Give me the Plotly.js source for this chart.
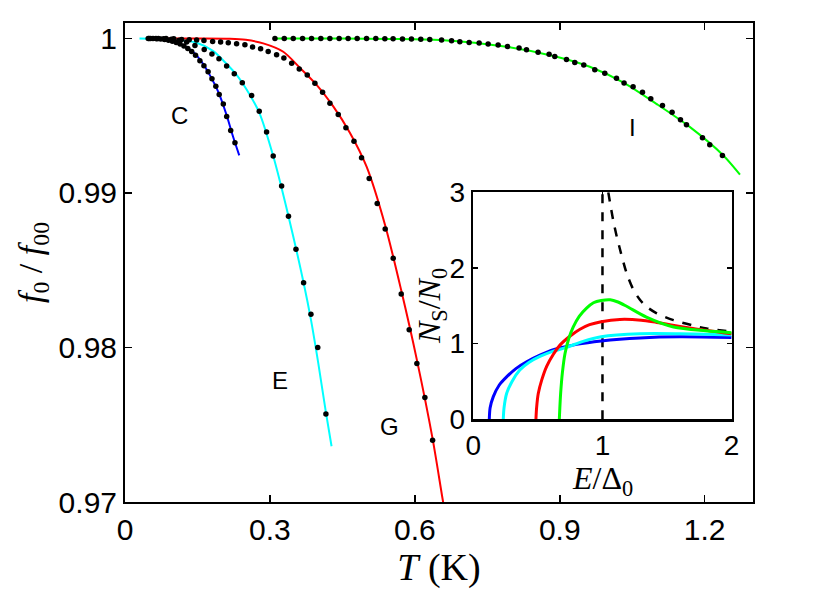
<!DOCTYPE html>
<html>
<head>
<meta charset="utf-8">
<script src="https://cdn.plot.ly/plotly-3.0.1.min.js"></script>
<style>html,body{margin:0;padding:0;background:#fff;}#plot{width:830px;height:590px;}</style>
</head>
<body>
<div id="plot"></div>
<script>
// ---------- main panel data: T (K) vs f0/f00 ----------
const cLineT = [0.048,0.0793,0.1138,0.1414,0.1587,0.1759,0.1931,0.2104,0.2236,0.2365];
const cLineF = [1.0,0.99994,0.99966,0.99912,0.99848,0.99761,0.99654,0.99503,0.99365,0.99243];
const cDotT = [0.050,0.058,0.066,0.074,0.082,0.090,0.098,0.106,0.114,0.122,0.130,0.138,0.146,0.155,0.1634,0.172,0.180,0.188,0.195,0.2035,0.2105,0.2188,0.2276];
const cDotF = [1.0,0.99999,0.99998,0.99996,0.99993,0.99988,0.99982,0.99974,0.99964,0.99951,0.99935,0.99915,0.99891,0.99856,0.99824,0.99785,0.9974,0.9969,0.99637,0.99575,0.99495,0.99405,0.99325];

const eLineT = [0.03,0.10,0.1483,0.1828,0.2104,0.231,0.2517,0.2779,0.3068,0.3384,0.3697,0.3849,0.40,0.4159,0.4276];
const eLineF = [1.0,0.99993,0.99972,0.99918,0.99835,0.99765,0.9967,0.9952,0.99239,0.9885,0.98419,0.9818,0.979,0.9758,0.97361];
const eDotT = [0.048,0.064,0.080,0.096,0.112,0.1276,0.1448,0.164,0.180,0.1945,0.2104,0.2262,0.2428,0.2621,0.2779,0.2931,0.3068,0.3242,0.3384,0.3539,0.3697,0.3849,0.399,0.4159];
const eDotF = [1.0,1.0,0.99998,0.99995,0.99988,0.99977,0.99955,0.99929,0.999,0.99869,0.99822,0.99772,0.99714,0.9963,0.99529,0.99394,0.99239,0.99045,0.9885,0.98635,0.98419,0.98215,0.980,0.9757];

const gLineT = [0.048,0.15,0.2172,0.25,0.2862,0.3276,0.362,0.3966,0.4311,0.4655,0.5001,0.5386,0.5718,0.6042,0.6367,0.6564,0.666];
const gLineF = [1.0,1.0,0.99998,0.99991,0.99968,0.99914,0.9981,0.997,0.9956,0.9939,0.9917,0.9879,0.9837,0.9792,0.9741,0.97039,0.9686];
const gDotT = [0.053,0.069,0.085,0.101,0.1173,0.133,0.1483,0.1634,0.1814,0.1979,0.2138,0.231,0.2482,0.2641,0.2807,0.2964,0.3138,0.3289,0.345,0.3607,0.3773,0.3931,0.409,0.4242,0.4414,0.4573,0.474,0.4897,0.5055,0.5221,0.5386,0.5552,0.5718,0.5883,0.6042,0.6208,0.6367];
const gDotF = [1.0,1.0,1.0,0.99998,0.99994,0.99992,0.9999,0.99987,0.99981,0.99977,0.99972,0.99966,0.99959,0.99945,0.99934,0.99916,0.99895,0.99874,0.9984,0.99803,0.99764,0.9971,0.99652,0.99581,0.99508,0.99422,0.99334,0.99228,0.99093,0.98932,0.98766,0.98577,0.98346,0.98114,0.97897,0.97677,0.974];

const iLineT = [0.31,0.45,0.55,0.6518,0.7897,0.8932,0.9621,1.031,1.100,1.1697,1.2386,1.273];
const iLineF = [1.0,0.99999,0.99997,0.9999,0.99946,0.99882,0.99817,0.99716,0.99577,0.99426,0.99243,0.99119];
const iDotT = [0.3104,0.3297,0.3483,0.3676,0.3862,0.4054,0.4241,0.4433,0.4619,0.4806,0.5,0.5192,0.5379,0.555,0.5744,0.593,0.6123,0.6309,0.6553,0.676,0.6931,0.7124,0.7331,0.7517,0.7724,0.7918,0.8158,0.8311,0.8551,0.8779,0.8897,0.9139,0.9311,0.9497,0.9725,0.9932,1.0174,1.0331,1.0518,1.0712,1.0884,1.1126,1.1325,1.1499,1.1623,1.1954,1.2105,1.2367];
const iDotF = [1.0,1.0,1.0,1.0,1.0,1.0,1.0,1.0,1.0,1.0,0.99999,0.99999,0.99998,0.99998,0.99997,0.99996,0.99995,0.99993,0.9999,0.99985,0.99979,0.99974,0.9997,0.99964,0.99957,0.99948,0.99938,0.99927,0.9991,0.99897,0.99884,0.99863,0.99845,0.99828,0.99798,0.99774,0.99742,0.99712,0.99688,0.99652,0.99609,0.99566,0.99523,0.99474,0.99441,0.99357,0.99312,0.99243];

const mainTickVals = [0.97,0.98,0.99,1];
const mainTickText = ['0.97','0.98','0.99','1'];
const tTickVals = [0,0.3,0.6,0.9,1.2];
const tTickText = ['0','0.3','0.6','0.9','1.2'];

const labelText = ['C','E','G','I'];
const labelT = [0.1138,0.3207,0.5483,1.0511];
const labelF = [0.99501,0.97785,0.97488,0.99424];

// ---------- inset data: E/Delta0 vs Ns/N0 ----------
const bE = [0.124,0.13,0.155,0.2,0.258,0.33,0.413,0.52,0.62,0.8,0.99,1.29,1.6,2.0];
const bN = [0,0.15,0.30,0.45,0.56,0.67,0.76,0.85,0.92,0.99,1.035,1.075,1.09,1.08];
const cyE = [0.232,0.238,0.258,0.30,0.36,0.43,0.516,0.62,0.72,0.85,0.99,1.29,1.6,2.0];
const cyN = [0,0.15,0.34,0.50,0.65,0.75,0.83,0.90,0.95,1.03,1.09,1.13,1.13,1.115];
const rE = [0.485,0.49,0.503,0.53,0.568,0.62,0.671,0.75,0.826,0.9,0.99,1.135,1.3,1.42,1.7,2.0];
const rN = [0,0.15,0.34,0.52,0.70,0.86,0.98,1.10,1.19,1.25,1.29,1.32,1.31,1.28,1.2,1.13];
const grE = [0.666,0.67,0.676,0.69,0.71,0.74,0.774,0.82,0.877,0.93,0.99,1.06,1.12,1.19,1.34,1.55,1.8,2.0];
const grN = [0,0.15,0.34,0.62,0.87,1.07,1.22,1.36,1.47,1.54,1.57,1.58,1.55,1.49,1.35,1.22,1.17,1.145];
const bcsVE = [1,1];
const bcsVN = [0,3];
const bcsE = [1.045,1.06,1.084,1.11,1.135,1.187,1.24,1.29,1.34,1.42,1.55,1.7,1.806,2.0];
const bcsN = [3,2.85,2.62,2.42,2.25,1.93,1.71,1.58,1.49,1.40,1.31,1.24,1.2,1.16];

const tickFont = {family:'"Liberation Sans", Arial, sans-serif', size:30, color:'#000'};
const insetTickFont = {family:'"Liberation Sans", Arial, sans-serif', size:28, color:'#000'};
const titleFont = {family:'"Liberation Serif", "Times New Roman", serif', size:34, color:'#000'};
const xTitleFont = {family:'"Liberation Serif", "Times New Roman", serif', size:38, color:'#000'};
const insetTitleFont = {family:'"Liberation Serif", "Times New Roman", serif', size:32, color:'#000'};

function line(x,y,color,w,xa,ya,dash){
  return {x:x,y:y,mode:'lines',type:'scatter',xaxis:xa||'x',yaxis:ya||'y',
    line:{color:color,width:w||2,shape:'spline',smoothing:0.8,dash:dash||'solid'},hoverinfo:'skip',showlegend:false};
}
function dots(x,y){
  return {x:x,y:y,mode:'markers',type:'scatter',xaxis:'x',yaxis:'y',
    marker:{color:'#000',size:5.5},hoverinfo:'skip',showlegend:false};
}

const traces = [
  line(cLineT,cLineF,'#0000ff',2),
  line(eLineT,eLineF,'#00ffff',2),
  line(gLineT,gLineF,'#ff0000',2),
  line(iLineT,iLineF,'#00ff00',2),
  dots(cDotT,cDotF), dots(eDotT,eDotF), dots(gDotT,gDotF), dots(iDotT,iDotF),
  line(bcsVE,bcsVN,'#000',2.5,'x2','y2','dash'),
  line(bcsE,bcsN,'#000',2.5,'x2','y2','dash'),
  line(bE,bN,'#0000ff',3,'x2','y2'),
  line(cyE,cyN,'#00ffff',3,'x2','y2'),
  line(rE,rN,'#ff0000',3,'x2','y2'),
  line(grE,grN,'#00ff00',3,'x2','y2')
];

const annotations = labelText.map((t,i)=>({x:labelT[i],y:labelF[i],xref:'x',yref:'y',text:t,showarrow:false,
  font:{family:'"Liberation Sans", Arial, sans-serif',size:24,color:'#000'}}));
annotations.push({xref:'paper',yref:'paper',x:0.4890,y:0.4092,text:'<i>N</i><sub>S</sub>/<i>N</i><sub>0</sub>',
  textangle:-90,showarrow:false,font:insetTitleFont,xanchor:'center',yanchor:'middle'});
annotations.push({xref:'paper',yref:'paper',x:0.7596,y:0.0440,text:'<i>E</i>/Δ<sub>0</sub>',
  showarrow:false,font:insetTitleFont,xanchor:'center',yanchor:'middle'});

const layout = {
  width:830,height:590,
  margin:{l:125,r:77,t:23,b:88},
  paper_bgcolor:'#fff',plot_bgcolor:'#fff',
  showlegend:false,
  xaxis:{domain:[0,1],range:[0,1.3],tickvals:tTickVals,ticktext:tTickText,ticks:'inside',ticklen:7,tickwidth:1.5,
    tickcolor:'#000',showline:true,linecolor:'#000',linewidth:2,mirror:'ticks',showgrid:false,zeroline:false,
    tickfont:tickFont,title:{text:'<i>T</i>\u00a0(K)',font:xTitleFont,standoff:0}},
  yaxis:{domain:[0,1],range:[0.97,1.001],tickvals:mainTickVals,ticktext:mainTickText,ticks:'inside',ticklen:7,tickwidth:1.5,
    tickcolor:'#000',showline:true,linecolor:'#000',linewidth:2,mirror:'ticks',showgrid:false,zeroline:false,
    tickfont:tickFont,title:{text:'<i>f</i><sub>0</sub> / <i>f</i><sub>00</sub>',font:titleFont,standoff:6}},
  xaxis2:{domain:[0.5546,0.966],anchor:'y2',range:[0,2],tickvals:[0,1,2],ticks:'inside',ticklen:5,tickwidth:1.5,
    tickcolor:'#000',showline:true,linecolor:'#000',linewidth:2.5,mirror:'ticks',showgrid:false,zeroline:false,
    tickfont:insetTickFont},
  yaxis2:{domain:[0.1727,0.6466],anchor:'x2',range:[0,3],tickvals:[0,1,2,3],ticks:'inside',ticklen:5,tickwidth:1.5,
    tickcolor:'#000',showline:true,linecolor:'#000',linewidth:2.5,mirror:'ticks',showgrid:false,zeroline:false,
    tickfont:insetTickFont},
  annotations:annotations
};

Plotly.newPlot('plot',traces,layout,{displayModeBar:false,staticPlot:true});
</script>
</body>
</html>
